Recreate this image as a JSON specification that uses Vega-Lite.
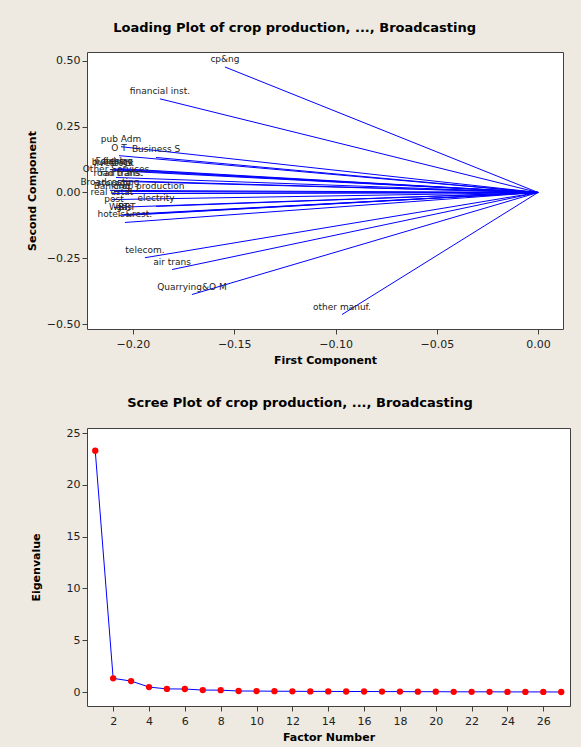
{
  "$schema": "https://vega.github.io/schema/vega-lite/v6.json",
  "background": "#EEEAE1",
  "padding": {"left": 25, "top": 21, "right": 10, "bottom": 4},
  "bounds": "full",
  "spacing": 30,
  "config": {
    "font": "DejaVu Sans",
    "view": {"stroke": "#404040", "strokeWidth": 1, "fill": "white"},
    "axis": {"grid": false, "domain": false, "tickColor": "#404040", "tickSize": 5, "labelFont": "DejaVu Sans", "labelFontSize": 11, "labelColor": "#222222", "titleFont": "DejaVu Sans", "titleFontSize": 11, "titleFontWeight": "bold", "titleColor": "#000000", "labelPadding": 2},
    "axisX": {"labelPadding": 4},
    "title": {"font": "DejaVu Sans", "fontSize": 13, "fontWeight": "bold", "color": "#000000", "anchor": "middle", "frame": "bounds", "offset": 17}
  },
  "vconcat": [
    {
      "title": "Loading Plot of crop production, ..., Broadcasting",
      "width": 476,
      "height": 277,
      "data": {"values": [
        {"label": "cp&ng", "pc1": -0.1546, "pc2": 0.477},
        {"label": "financial inst.", "pc1": -0.1867, "pc2": 0.356},
        {"label": "pub Adm", "pc1": -0.2059, "pc2": 0.174},
        {"label": "O T", "pc1": -0.2069, "pc2": 0.140},
        {"label": "Business S", "pc1": -0.1886, "pc2": 0.133},
        {"label": "building", "pc1": -0.2114, "pc2": 0.087},
        {"label": "fishing", "pc1": -0.2074, "pc2": 0.091},
        {"label": "livestock", "pc1": -0.2094, "pc2": 0.083},
        {"label": "Forestry", "pc1": -0.2094, "pc2": 0.089},
        {"label": "Other Services", "pc1": -0.2084, "pc2": 0.057},
        {"label": "road trans.", "pc1": -0.2074, "pc2": 0.045},
        {"label": "rail trans.", "pc1": -0.2054, "pc2": 0.042},
        {"label": "Broadcasting", "pc1": -0.2114, "pc2": 0.008},
        {"label": "storage", "pc1": -0.2094, "pc2": 0.004},
        {"label": "crop production", "pc1": -0.1921, "pc2": -0.004},
        {"label": "Banking", "pc1": -0.2104, "pc2": -0.004},
        {"label": "real estat", "pc1": -0.2104, "pc2": -0.027},
        {"label": "post", "pc1": -0.2094, "pc2": -0.057},
        {"label": "electrity", "pc1": -0.1886, "pc2": -0.053},
        {"label": "WRT", "pc1": -0.2069, "pc2": -0.087},
        {"label": "BRT", "pc1": -0.2030, "pc2": -0.087},
        {"label": "gas", "pc1": -0.2044, "pc2": -0.084},
        {"label": "hotels&rest.", "pc1": -0.2040, "pc2": -0.114},
        {"label": "telecom.", "pc1": -0.1941, "pc2": -0.248},
        {"label": "air trans", "pc1": -0.1807, "pc2": -0.293},
        {"label": "Quarrying&O M", "pc1": -0.1709, "pc2": -0.388},
        {"label": "other manuf.", "pc1": -0.0968, "pc2": -0.464}
      ]},
      "encoding": {
        "x": {"field": "pc1", "type": "quantitative", "scale": {"domain": [-0.2227, 0.0123], "nice": false, "zero": false},
              "axis": {"values": [-0.2, -0.15, -0.1, -0.05, 0], "format": ".2f", "title": "First Component", "titlePadding": 5}},
        "y": {"field": "pc2", "type": "quantitative", "scale": {"domain": [-0.519, 0.534], "nice": false, "zero": false},
              "axis": {"values": [-0.5, -0.25, 0, 0.25, 0.5], "format": ".2f", "title": "Second Component", "titlePadding": 9}}
      },
      "layer": [
        {"mark": {"type": "rule", "color": "#0000FF", "strokeWidth": 1},
         "encoding": {"x2": {"datum": 0}, "y2": {"datum": 0}}},
        {"mark": {"type": "text", "fontSize": 9, "color": "#222222", "align": "center", "baseline": "bottom", "dy": -3},
         "encoding": {"text": {"field": "label", "type": "nominal"}}}
      ]
    },
    {
      "title": "Scree Plot of crop production, ..., Broadcasting",
      "width": 483,
      "height": 278,
      "data": {"values": [
        {"factor": 1, "eigen": 23.3},
        {"factor": 2, "eigen": 1.32},
        {"factor": 3, "eigen": 1.06},
        {"factor": 4, "eigen": 0.48},
        {"factor": 5, "eigen": 0.30},
        {"factor": 6, "eigen": 0.29},
        {"factor": 7, "eigen": 0.19},
        {"factor": 8, "eigen": 0.18},
        {"factor": 9, "eigen": 0.10},
        {"factor": 10, "eigen": 0.09},
        {"factor": 11, "eigen": 0.08},
        {"factor": 12, "eigen": 0.07},
        {"factor": 13, "eigen": 0.06},
        {"factor": 14, "eigen": 0.06},
        {"factor": 15, "eigen": 0.05},
        {"factor": 16, "eigen": 0.05},
        {"factor": 17, "eigen": 0.04},
        {"factor": 18, "eigen": 0.04},
        {"factor": 19, "eigen": 0.03},
        {"factor": 20, "eigen": 0.03},
        {"factor": 21, "eigen": 0.02},
        {"factor": 22, "eigen": 0.02},
        {"factor": 23, "eigen": 0.02},
        {"factor": 24, "eigen": 0.01},
        {"factor": 25, "eigen": 0.01},
        {"factor": 26, "eigen": 0.01},
        {"factor": 27, "eigen": 0.00}
      ]},
      "encoding": {
        "x": {"field": "factor", "type": "quantitative", "scale": {"domain": [0.54, 27.49], "nice": false, "zero": false},
              "axis": {"values": [2, 4, 6, 8, 10, 12, 14, 16, 18, 20, 22, 24, 26], "title": "Factor Number", "titlePadding": 5}},
        "y": {"field": "eigen", "type": "quantitative", "scale": {"domain": [-1.35, 25.5], "nice": false, "zero": false},
              "axis": {"values": [0, 5, 10, 15, 20, 25], "title": "Eigenvalue", "titlePadding": 25}}
      },
      "layer": [
        {"mark": {"type": "line", "color": "#0000FF", "strokeWidth": 1}},
        {"mark": {"type": "point", "filled": true, "color": "#FF0000", "size": 40, "opacity": 1}}
      ]
    }
  ]
}
